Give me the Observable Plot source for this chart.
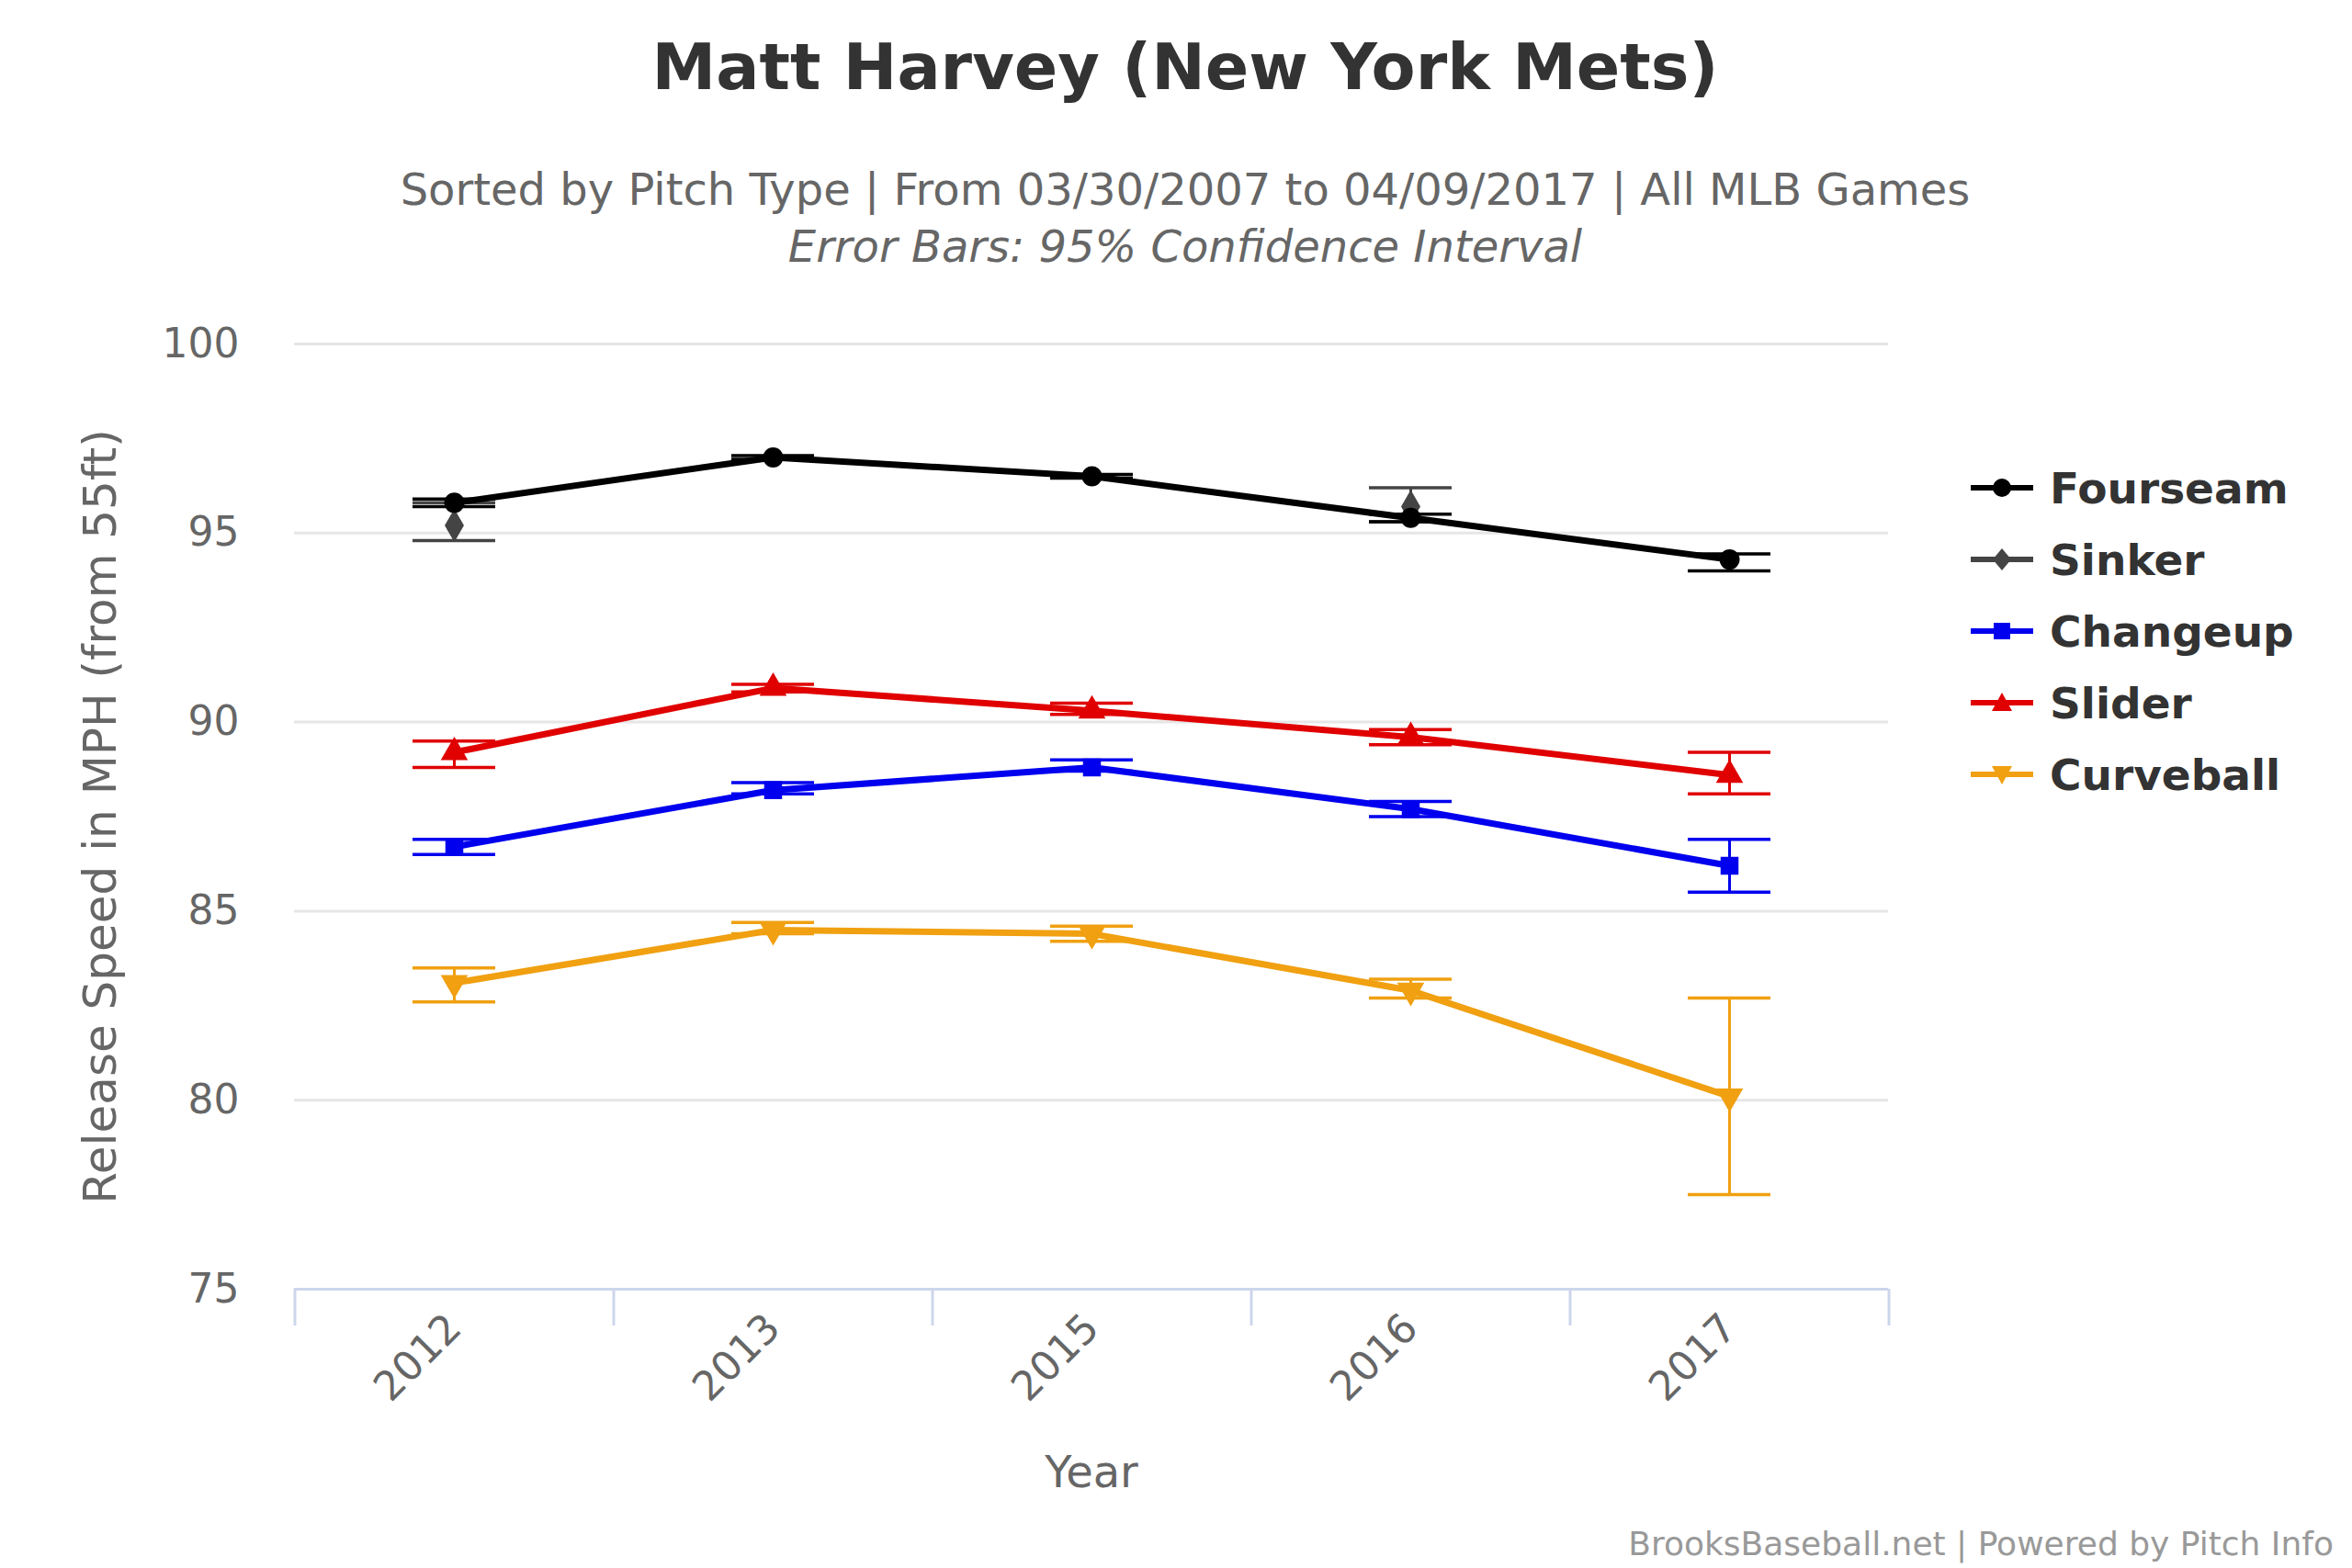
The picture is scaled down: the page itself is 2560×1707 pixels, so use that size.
<!DOCTYPE html>
<html><head><meta charset="utf-8">
<script src="https://cdn.jsdelivr.net/npm/d3@7"></script>
<script src="https://cdn.jsdelivr.net/npm/@observablehq/plot@0.6"></script>
<style>
body{margin:0;background:#fff;font-family:"DejaVu Sans",sans-serif;}
#wrap{position:relative;width:2560px;height:1707px;}
.t{position:absolute;left:10px;width:2560px;text-align:center;color:#333;}
#legend{position:absolute;left:2145px;top:492px;font-weight:bold;font-size:47px;color:#333;}
#legend div{height:78px;display:flex;align-items:center;}
#legend svg{margin-right:18px;}
</style></head><body>
<div id="wrap">
<div class="t" style="top:32px;font-size:70px;font-weight:bold;">Matt Harvey (New York Mets)</div>
<div class="t" style="top:178px;font-size:48px;color:#666;">Sorted by Pitch Type | From 03/30/2007 to 04/09/2017 | All MLB Games</div>
<div class="t" style="top:240px;font-size:48px;color:#666;font-style:italic;">Error Bars: 95% Confidence Interval</div>
<div id="chart" style="position:absolute;left:0;top:0"></div>
<div id="legend"></div>
<div style="position:absolute;right:20px;top:1660px;font-size:36px;color:#999">BrooksBaseball.net | Powered by Pitch Info</div>
</div>
<script>
const years = ["2012","2013","2015","2016","2017"];
const pitches = ["Fourseam","Sinker","Changeup","Slider","Curveball"];
const colors = ["#000000","#444444","#0000ee","#e00000","#f0a010"];
const symbols = ["circle","diamond","square","triangle","triangle"];
const fourseam = [95.8,97.0,96.5,95.4,94.3];
const fourseamLo = [95.7,96.95,96.45,95.3,94.0];
const fourseamHi = [95.9,97.05,96.55,95.5,94.45];
const sinker = [95.2,null,null,95.7,null];
const sinkerLo = [94.8,null,null,95.3,null];
const sinkerHi = [95.8,null,null,96.2,null];
const changeup = [86.7,88.2,88.8,87.7,86.2];
const changeupLo = [86.5,88.1,88.7,87.5,85.5];
const changeupHi = [86.9,88.4,89.0,87.9,86.9];
const slider = [89.2,90.9,90.3,89.6,88.6];
const sliderLo = [88.8,90.8,90.2,89.4,88.1];
const sliderHi = [89.5,91.0,90.5,89.8,89.2];
const curveball = [83.1,84.5,84.4,82.9,80.1];
const curveballLo = [82.6,84.4,84.2,82.7,77.5];
const curveballHi = [83.5,84.7,84.6,83.2,82.7];
const yTicks = [75,80,85,90,95,100];

const series = [[fourseam,fourseamLo,fourseamHi],[sinker,sinkerLo,sinkerHi],[changeup,changeupLo,changeupHi],[slider,sliderLo,sliderHi],[curveball,curveballLo,curveballHi]];
const rows = [];
series.forEach(([v,lo,hi],k)=>years.forEach((y,i)=>{ if(v[i]!=null) rows.push({pitch:pitches[k],k,year:y,v:v[i],lo:lo[i],hi:hi[i]}); }));
const order = [4,2,3,1,0];
const half = (2560-320-505)/10;
const marks = [
  Plot.ruleY(yTicks.filter(d=>d>75),{stroke:"#e6e6e6",strokeWidth:3}),
  Plot.ruleY([75],{stroke:"#ccd6eb",strokeWidth:3}),
  Plot.ruleX(years,{x:d=>d,dx:-half,y1:75,y2:75,insetBottom:-40,stroke:"#ccd6eb",strokeWidth:3}),
  Plot.ruleX(["2017"],{x:d=>d,dx:half,y1:75,y2:75,insetBottom:-40,stroke:"#ccd6eb",strokeWidth:3}),
];
for(const k of order){
  const d = rows.filter(r=>r.k===k);
  const c = colors[k];
  if(k!==1) marks.push(Plot.line(d,{x:"year",y:"v",stroke:c,strokeWidth:7}));
  marks.push(Plot.ruleX(d,{x:"year",y1:"lo",y2:"hi",stroke:c,strokeWidth:3}));
  marks.push(Plot.ruleY(d,{y:"lo",x1:"year",x2:"year",insetLeft:-45,insetRight:-45,stroke:c,strokeWidth:3.5}));
  marks.push(Plot.ruleY(d,{y:"hi",x1:"year",x2:"year",insetLeft:-45,insetRight:-45,stroke:c,strokeWidth:3.5}));
  marks.push(Plot.dot(d,{x:"year",y:"v",fill:c,symbol:()=>symbols[k],r:k===0?11:11,rotate:k===4?180:0}));
}
const plot = Plot.plot({
  width:2560,height:1707,marginLeft:320,marginRight:505,marginTop:374,marginBottom:304,
  style:{fontFamily:"DejaVu Sans, sans-serif",fontSize:"42px",color:"#666",background:"transparent"},
  x:{type:"point",domain:years,padding:0.5},
  y:{domain:[75,100]},
  marks:[...marks,
    Plot.axisX({tickSize:0,tickRotate:-45,tickPadding:35,fontSize:44,fill:"#666",label:null}),
    Plot.axisX({tickSize:0,ticks:[],label:"Year",labelAnchor:"center",labelOffset:215,fontSize:48,fill:"#666"}),
    Plot.axisY({ticks:yTicks,tickSize:0,tickPadding:60,fontSize:44,fill:"#666",label:null}),
    Plot.axisY({ticks:[],tickSize:0,label:"Release Speed in MPH (from 55ft)",labelAnchor:"center",labelOffset:230,labelArrow:"none",fontSize:50,fill:"#666"})]
});
document.getElementById("chart").appendChild(plot);
const leg = document.getElementById("legend");
const shapes = ['<circle cx="34" cy="15" r="10"/>','<path d="M34 3 L44 15 L34 27 L24 15Z"/>','<rect x="25" y="6" width="18" height="18"/>','<path d="M34 4 L45 24 L23 24Z"/>','<path d="M34 26 L45 6 L23 6Z"/>'];
pitches.forEach((p,k)=>{
  leg.insertAdjacentHTML("beforeend",`<div><svg width="68" height="30" fill="${colors[k]}"><line x1="0" x2="68" y1="15" y2="15" stroke="${colors[k]}" stroke-width="6"/>${shapes[k]}</svg>${p}</div>`);
});
</script>
</body></html>
